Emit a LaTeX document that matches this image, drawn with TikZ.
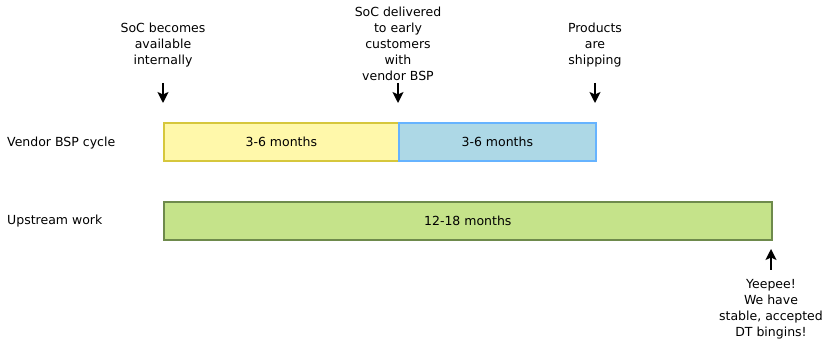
\documentclass[tikz,border=0pt]{standalone}
\usepackage{fontspec}
\setmainfont{DejaVu Sans}
\usetikzlibrary{arrows.meta}
\definecolor{yfill}{HTML}{FFF8AA}
\definecolor{ydraw}{HTML}{D6C73C}
\definecolor{bfill}{HTML}{ADD8E6}
\definecolor{bdraw}{HTML}{66B3FF}
\definecolor{gfill}{HTML}{C5E38A}
\definecolor{gdraw}{HTML}{6E8A4C}
\begin{document}
\begin{tikzpicture}[x=1pt,y=-1pt,
  txt/.style={font=\fontsize{12.5}{16}\selectfont,inner sep=0pt},
  note/.style={txt,align=center,anchor=north},
  bar/.style={draw,line width=1.6pt,minimum height=38.5pt,inner sep=0pt,anchor=north west,txt},
  pointer/.style={line width=1.6pt,-{Stealth[length=11pt,width=11pt,inset=2.5pt]}}]
\useasboundingbox (0,0) rectangle (825,339);
% row labels
\node[txt,anchor=base west] (lvendor) at (7,146.5) {Vendor BSP cycle};
\node[txt,anchor=base west] (lup) at (7,224.5) {Upstream work};
% bars
\node[bar,fill=yfill,draw=ydraw,minimum width=235pt] (yb) at (163,122) {3-6 months};
\node[bar,fill=bfill,draw=bdraw,minimum width=197pt] (bb) at (398,122) {3-6 months};
\node[bar,fill=gfill,draw=gdraw,minimum width=608pt] (gb) at (163,201) {12-18 months};
% top notes
\node[note] (n1) at (163,22.5) {SoC becomes\\available\\internally};
\node[note] (n2) at (398,6.5) {SoC delivered\\to early\\customers\\with\\vendor BSP};
\node[note] (n3) at (595,22.5) {Products\\are\\shipping};
\node[note] (n4) at (771,279.5) {Yeepee!\\We have\\stable, accepted\\DT bingins!};
% arrow coordinates
\coordinate (a1s) at (163,83); \coordinate (a1e) at (163,103);
\coordinate (a2s) at (398,83); \coordinate (a2e) at (398,103);
\coordinate (a3s) at (595,83); \coordinate (a3e) at (595,103);
\coordinate (a4s) at (771,270); \coordinate (a4e) at (771,249);
\draw[pointer] (a1s) -- (a1e);
\draw[pointer] (a2s) -- (a2e);
\draw[pointer] (a3s) -- (a3e);
\draw[pointer] (a4s) -- (a4e);
\end{tikzpicture}
\end{document}
